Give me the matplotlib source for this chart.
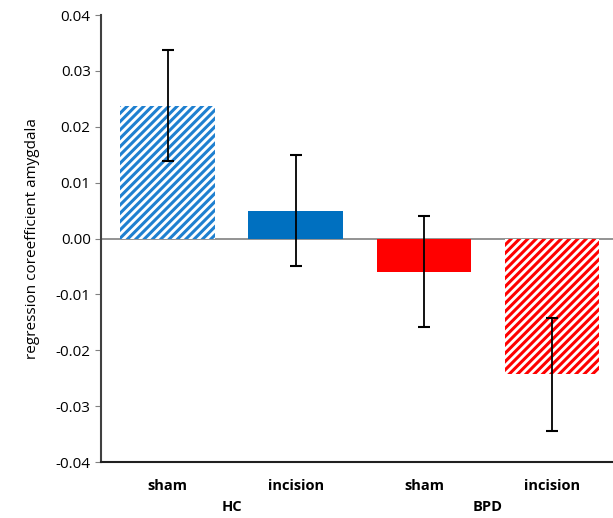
import matplotlib
matplotlib.use("Agg")
import matplotlib.pyplot as plt

plt.rcParams['font.family'] = ['Open Sans', 'DejaVu Sans']
plt.rcParams['hatch.linewidth'] = 2.2

conditions = ['sham', 'incision', 'sham', 'incision']
groups = ['HC', 'BPD']
values = [0.0238, 0.0050, -0.0059, -0.0243]
errors = [0.0100, 0.0100, 0.0100, 0.0101]
colors = ['#1f80d0', '#0070c0', '#ff0000', '#ff0000']
hatched = [True, False, False, True]

fig = plt.figure(figsize=(6.13, 5.18), dpi=100)
ax = fig.add_axes([0.165, 0.108, 0.84, 0.863])

x = list(range(len(values)))
for i in x:
    if hatched[i]:
        ax.bar(i, values[i], width=0.74, facecolor='white', edgecolor=colors[i],
               hatch='////', linewidth=0)
    else:
        ax.bar(i, values[i], width=0.74, color=colors[i], linewidth=0)
ax.errorbar(x, values, yerr=errors, fmt='none', ecolor='black',
            elinewidth=1.3, capsize=4, capthick=1.5)

ax.axhline(0, color='#808080', linewidth=1.2, zorder=0)
ax.set_xlim(-0.52, 3.5)
ax.set_ylim(-0.04, 0.04)
ax.set_yticks([-0.04, -0.03, -0.02, -0.01, 0.0, 0.01, 0.02, 0.03, 0.04])
ax.set_yticklabels(['%.2f' % t for t in ax.get_yticks()], fontsize=11)
ax.set_xticks([])
ax.tick_params(axis='y', direction='out', length=4, color='#808080')
for s in ['top', 'right']:
    ax.spines[s].set_visible(False)
ax.spines['left'].set_color('#404040')
ax.spines['left'].set_linewidth(1.5)
ax.spines['bottom'].set_color('#202020')
ax.spines['bottom'].set_linewidth(1.5)
ax.set_ylabel('regression coreefficient amygdala', fontsize=11, labelpad=11)

for i, c in enumerate(conditions):
    ax.text(i, -0.0443, c, ha='center', va='center', fontsize=10.5, fontweight='bold')
ax.text(0.5, -0.0481, groups[0], ha='center', va='center', fontsize=10.5, fontweight='bold')
ax.text(2.5, -0.0481, groups[1], ha='center', va='center', fontsize=10.5, fontweight='bold')

fig.savefig('out.png', dpi=100)
